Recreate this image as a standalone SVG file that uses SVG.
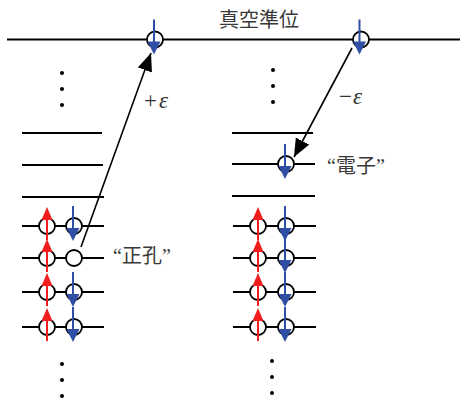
<svg xmlns="http://www.w3.org/2000/svg" width="460" height="398" viewBox="0 0 460 398" xmlns:xlink="http://www.w3.org/1999/xlink">
<style>
.lvl{stroke:#000;stroke-width:2;fill:none}
.orb{fill:#fff;stroke:#000;stroke-width:1.8}
.dot{fill:#000}
.lbl{font-family:"Liberation Serif","Noto Sans CJK JP",serif;font-size:20px;fill:#3a3a3a}
.eps{font-family:"Liberation Serif",serif;font-size:23px;fill:#333}
.conn{stroke:#000;stroke-width:1.6;fill:none}
</style>
<defs>
<g id="up"><line x1="0" y1="14" x2="0" y2="-8" stroke="#f21d1d" stroke-width="2"/><polygon points="0,-19 -5.5,-6 5.5,-6" fill="#f21d1d"/></g>
<g id="dn"><line x1="0" y1="-20" x2="0" y2="4" stroke="#2e4fa3" stroke-width="2"/><polygon points="-6.5,2 6.5,2 0,15" fill="#2e4fa3"/></g>
<marker id="ah" markerUnits="userSpaceOnUse" markerWidth="20" markerHeight="16" refX="18" refY="7.5" orient="auto"><path d="M0,0 L18,7.5 L0,15 z" fill="#000"/></marker>
</defs>

<g id="vacuum">
<line class="lvl" x1="7" y1="39.5" x2="460" y2="39.5"/>
<text class="lbl" x="259" y="27" text-anchor="middle">真空準位</text>
</g>

<g id="left-levels">
<line class="lvl" x1="22" y1="133" x2="102" y2="133"/>
<line class="lvl" x1="22" y1="165" x2="103" y2="165"/>
<line class="lvl" x1="22" y1="197" x2="104" y2="197"/>
<line class="lvl" x1="22" y1="226" x2="104" y2="226"/>
<line class="lvl" x1="22" y1="258" x2="104" y2="258"/>
<line class="lvl" x1="22" y1="292" x2="104" y2="292"/>
<line class="lvl" x1="22" y1="327" x2="104" y2="327"/>
</g>
<g id="right-levels">
<line class="lvl" x1="232" y1="133" x2="313" y2="133"/>
<line class="lvl" x1="232" y1="164" x2="315" y2="164"/>
<line class="lvl" x1="232" y1="196" x2="315" y2="196"/>
<line class="lvl" x1="233" y1="226" x2="316" y2="226"/>
<line class="lvl" x1="233" y1="258" x2="316" y2="258"/>
<line class="lvl" x1="233" y1="292" x2="316" y2="292"/>
<line class="lvl" x1="233" y1="327" x2="316" y2="327"/>
</g>

<g id="dots">
<circle class="dot" cx="62" cy="73" r="2"/><circle class="dot" cx="62" cy="89" r="2"/><circle class="dot" cx="62" cy="105" r="2"/>
<circle class="dot" cx="62" cy="364" r="2"/><circle class="dot" cx="62" cy="380" r="2"/><circle class="dot" cx="62" cy="396" r="2"/>
<circle class="dot" cx="273" cy="70" r="2"/><circle class="dot" cx="273" cy="86" r="2"/><circle class="dot" cx="273" cy="102" r="2"/>
<circle class="dot" cx="272" cy="361" r="2"/><circle class="dot" cx="272" cy="377" r="2"/><circle class="dot" cx="272" cy="393" r="2"/>
</g>

<g id="connectors">
<line class="conn" x1="81" y1="247" x2="151" y2="53" marker-end="url(#ah)"/>
<line class="conn" x1="352" y1="48" x2="294" y2="157" marker-end="url(#ah)"/>
</g>

<g id="top-left-electron"><circle class="orb" cx="155" cy="39.5" r="8"/><use xlink:href="#dn" x="154" y="39.5"/></g>
<g id="top-right-electron"><circle class="orb" cx="361" cy="39.5" r="8"/><use xlink:href="#dn" x="359.5" y="39.5"/></g>

<g id="left-r1"><circle class="orb" cx="47" cy="226" r="8"/><circle class="orb" cx="74" cy="226" r="8"/><use xlink:href="#up" x="47" y="226"/><use xlink:href="#dn" x="73" y="226"/></g>
<g id="left-r2"><circle class="orb" cx="47" cy="258" r="8"/><circle class="orb" cx="74" cy="258" r="8"/><use xlink:href="#up" x="47" y="258"/></g>
<g id="left-r3"><circle class="orb" cx="47" cy="292" r="8"/><circle class="orb" cx="74" cy="292" r="8"/><use xlink:href="#up" x="47" y="292"/><use xlink:href="#dn" x="73" y="292"/></g>
<g id="left-r4"><circle class="orb" cx="47" cy="327" r="8"/><circle class="orb" cx="74" cy="327" r="8"/><use xlink:href="#up" x="47" y="327"/><use xlink:href="#dn" x="73" y="327"/></g>

<g id="right-electron"><circle class="orb" cx="286" cy="164" r="8"/><use xlink:href="#dn" x="285" y="164"/></g>
<g id="right-r1"><circle class="orb" cx="258" cy="226" r="8"/><circle class="orb" cx="286" cy="226" r="8"/><use xlink:href="#up" x="258" y="226"/><use xlink:href="#dn" x="285" y="226"/></g>
<g id="right-r2"><circle class="orb" cx="258" cy="258" r="8"/><circle class="orb" cx="286" cy="258" r="8"/><use xlink:href="#up" x="258" y="258"/><use xlink:href="#dn" x="285" y="258"/></g>
<g id="right-r3"><circle class="orb" cx="258" cy="292" r="8"/><circle class="orb" cx="286" cy="292" r="8"/><use xlink:href="#up" x="258" y="292"/><use xlink:href="#dn" x="285" y="292"/></g>
<g id="right-r4"><circle class="orb" cx="258" cy="327" r="8"/><circle class="orb" cx="286" cy="327" r="8"/><use xlink:href="#up" x="258" y="327"/><use xlink:href="#dn" x="285" y="327"/></g>

<g id="labels">
<text class="eps" x="144" y="108">+<tspan dx="2" font-style="italic">ε</tspan></text>
<text class="eps" x="339" y="104">−<tspan dx="1" font-style="italic">ε</tspan></text>
<text class="lbl" x="113" y="263">“正孔”</text>
<text class="lbl" x="327" y="173">“電子”</text>
</g>
</svg>
